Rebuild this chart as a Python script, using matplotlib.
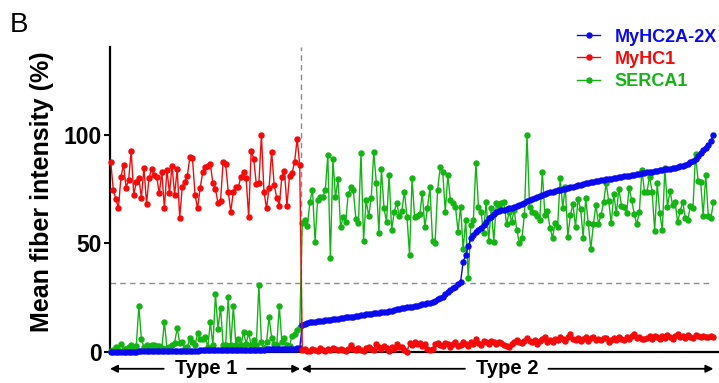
import numpy as np
import matplotlib.pyplot as plt
import matplotlib.transforms as mtransforms

plt.rcParams['font.family'] = ['Liberation Sans', 'DejaVu Sans']

# fibers sorted by MyHC2A-2X intensity, type 1 first then type 2
myhc2a_type1 = [0.0, 0.0, 0.1, 0.1, 0.1, 0.1, 0.2, 0.2, 0.2, 0.2,
                0.2, 0.3, 0.3, 0.3, 0.3, 0.3, 0.3, 0.4, 0.4, 0.4,
                0.4, 0.4, 0.4, 0.5, 0.5, 0.5, 0.5, 0.5, 0.5, 0.6,
                0.6, 0.6, 0.6, 0.6, 0.6, 0.7, 0.7, 0.7, 0.7, 0.7,
                0.7, 0.8, 0.8, 0.8, 0.8, 0.8, 0.8, 0.9, 0.9, 0.9,
                0.9, 0.9, 1.0, 1.0, 1.0, 1.0, 1.0, 1.1, 1.1, 1.1,
                1.1, 1.2, 1.2, 1.2, 1.2, 1.3, 1.3, 1.3, 1.4, 1.4,
                1.4, 1.5, 1.6, 1.8, 2.0]
myhc1_type1 = [87.4, 74.6, 70.5, 66.2, 80.8, 86.2, 75.7, 79.3, 92.6, 72.4,
               78.2, 80.0, 71.1, 84.9, 68.3, 80.3, 84.3, 81.6, 80.5, 73.1,
               82.8, 66.2, 84.0, 73.1, 85.9, 72.4, 84.3, 61.9, 76.2, 78.5,
               81.2, 90.0, 89.2, 72.4, 66.2, 75.4, 82.8, 85.4,
               85.9, 86.5, 77.7, 75.1, 68.5, 69.6, 87.7, 86.5, 73.9, 64.7,
               73.9, 76.2, 76.2, 80.8, 83.1, 80.0, 62.4, 92.6, 88.9, 77.2,
               77.7, 100.0, 73.6, 66.2, 75.7, 92.3, 76.9, 71.1, 67.4, 80.8,
               83.4, 67.4, 81.2, 82.3, 87.7, 98.2, 86.2]
serca1_type1 = [0.3, 1.0, 2.3, 0.8, 3.9, 1.2, 1.5, 2.3, 3.1, 1.8,
                2.8, 21.1, 6.0, 2.3, 3.1, 2.3, 3.1, 3.1, 2.8, 2.8,
                1.8, 14.0, 1.8, 2.3, 3.1, 4.3, 10.9, 4.3, 4.6, 1.8,
                2.3, 6.4, 4.6, 3.1, 8.6, 6.0, 5.8, 6.8,
                2.3, 13.7, 3.1, 26.6, 10.6, 20.4, 3.4, 3.1, 25.5, 3.1,
                21.1, 3.1, 6.0, 3.1, 9.1, 3.9, 8.6, 3.1, 5.4, 3.1,
                30.9, 4.6, 1.8, 4.6, 16.0, 6.6, 3.9, 3.1, 21.1, 4.6,
                6.6, 3.1, 2.6, 7.6, 8.4, 10.0, 11.5]

myhc2a_type2 = [12.4, 12.9, 13.3, 13.6, 13.8, 14.0, 14.2, 14.3, 14.5, 14.6,
                14.7, 14.9, 15.0, 15.2, 15.3, 15.5, 15.7, 15.9, 16.0, 16.2,
                16.3, 16.5, 16.7, 16.9, 17.1, 17.3, 17.5, 17.6, 17.8, 17.9,
                18.1, 18.3, 18.5, 18.6, 18.9, 19.1, 19.4, 19.6, 19.9,
                20.1, 20.3, 20.5, 20.7, 20.9, 21.1, 21.3, 21.6, 21.9, 22.1,
                22.4, 22.8, 23.2, 23.7, 24.2, 24.7,
                25.5, 26.5, 27.8, 28.6, 29.4, 30.1, 31.2, 32.4,
                41.6, 44.7, 48.8, 52.4, 54.0, 55.4, 56.3, 57.2, 58.5, 60.0,
                61.5, 62.4, 63.5, 64.7, 65.0, 65.4,
                65.6, 65.9, 66.2, 66.5, 66.9, 67.3, 67.7, 68.2, 68.8, 69.4,
                70.0, 70.5, 71.0, 71.5, 72.0, 72.4, 72.8, 73.2, 73.6, 73.9,
                74.2, 74.5, 74.7, 75.0, 75.3, 75.6, 75.9, 76.2, 76.5, 76.8,
                77.1, 77.4, 77.7, 78.0, 78.2, 78.5, 78.8, 79.0, 79.2, 79.4,
                79.5, 79.7,
                79.9, 80.1, 80.3, 80.5, 80.7, 80.9, 81.1, 81.3, 81.5, 81.7,
                81.9, 82.1, 82.3, 82.5, 82.7, 82.9, 83.1, 83.3, 83.5, 83.7,
                83.9, 84.1, 84.3, 84.5, 84.7, 84.9, 85.2, 85.5, 85.9, 86.3,
                86.8, 87.4, 88.0, 89.0, 90.5, 91.8, 93.1, 94.2, 95.4, 97.2,
                100.0]
myhc1_type2 = [0.8, 1.2, 0.5, 0.3, 1.5, 0.9, 0.4, 1.8, 1.1, 0.6,
               1.4, 0.9, 2.0, 1.3, 0.7, 1.6, 1.0, 0.5, 1.2, 3.2,
               1.5, 0.8, 1.9, 1.1, 0.6, 1.7, 2.3, 1.4, 0.9, 3.5,
               2.1, 1.2, 2.6, 1.8, 0.4, 2.2, 1.6, 3.7, 2.4,
               2.5, 1.0, 0.2, 4.1, 3.0, 4.8, 3.6, 4.2, 2.8, 3.9,
               1.4, 1.0, 1.2, 3.8, 4.1, 3.2, 2.6, 4.3, 3.5, 2.1,
               3.9, 4.6, 2.8, 3.4, 4.8, 3.7, 2.9, 4.4, 3.6, 5.8,
               4.2, 3.1, 4.9, 4.8, 3.9, 5.2, 4.4, 3.6, 4.8,
               4.0, 3.3, 2.9, 2.5, 3.6, 4.4, 5.5, 4.8, 4.1, 5.2,
               6.3, 5.0, 4.4, 5.6, 3.5, 4.9, 5.8, 7.1, 4.8, 5.5,
               4.6, 6.2, 5.3, 7.1, 6.0, 5.1, 6.8, 8.1, 5.9, 5.5,
               6.4, 4.9, 5.8, 6.7, 5.2, 6.3, 7.0, 5.6, 6.1, 5.5,
               6.6, 6.3,
               4.8, 5.7, 6.4, 5.3, 7.1, 6.2, 5.4, 6.8, 5.9, 7.4,
               8.1, 6.5, 7.0, 6.1, 5.8, 6.6, 7.3, 6.0, 7.6, 6.8,
               5.9, 7.2, 6.4, 7.9, 6.9, 6.2, 7.5, 8.4, 6.8, 7.3,
               6.5, 7.8, 7.0, 6.6, 8.0, 7.2, 6.9, 7.6, 7.1, 6.8,
               7.4, 7.1]
serca1_type2 = [59.3, 60.8, 58.1, 69.3, 74.7, 50.9, 69.8, 71.3, 71.3, 74.4,
                90.8, 43.2, 88.8, 71.3, 79.6, 57.4, 62.0, 60.0, 72.9, 75.9,
                74.4, 61.1, 59.3, 91.9, 51.3, 70.0, 62.6, 70.8, 92.3, 77.7,
                55.0, 84.2, 66.2, 60.0, 81.6, 56.1, 64.6, 68.8, 62.6, 65.1,
                73.9,
                62.3, 44.7, 80.0, 62.0, 62.6, 63.5, 73.1, 57.4, 66.2, 75.9,
                51.3, 50.1, 74.7, 85.1, 83.1, 64.6, 81.6, 69.8, 68.8, 67.0,
                55.5, 67.0, 47.3, 60.8, 33.9, 58.5, 60.8, 87.2, 66.7, 64.6,
                54.7, 69.3, 51.3, 66.2, 50.9, 68.8, 67.3, 68.5,
                68.9, 58.9, 64.3, 60.1, 65.4, 56.2, 50.1, 52.4, 63.1, 100.0,
                67.0, 64.3, 63.9, 62.8, 60.8, 83.1, 63.1, 65.0, 57.3, 52.7,
                59.3, 57.7, 80.3, 66.5, 76.2, 53.2, 63.1, 68.0, 57.7, 70.5,
                65.9, 52.7, 70.8, 59.3, 47.5, 58.9, 67.8, 58.9, 63.1, 68.9,
                77.7,
                69.6, 59.3, 72.7, 63.9, 75.2, 67.4, 66.9, 63.9, 75.5, 70.1,
                63.4, 58.9, 64.3, 84.0, 73.9, 73.9, 80.8, 73.9, 55.8, 77.7,
                63.9, 56.2, 84.7, 66.9, 74.2, 67.7, 68.9, 59.8, 65.0, 69.3,
                61.6, 60.8, 67.4, 66.5, 91.1, 78.8, 78.5, 62.8, 81.6, 62.8,
                61.6, 68.9]

series_names = ["MyHC2A-2X", "MyHC1", "SERCA1"]
series_colors = ["#0a0af0", "#f50a0a", "#14b414"]
group_names = ["Type 1", "Type 2"]
y_ticks = [0, 50, 100]
threshold = 32


def draw_group_label(ax, name, center, left, right):
    # text under the axis with arrows running out to both ends
    trans = mtransforms.blended_transform_factory(ax.transData, ax.transAxes)
    yy = -0.055
    txt = ax.text(center, yy, name, transform=trans, ha='center', va='center',
                  fontsize=14.5, fontweight='bold', clip_on=False)
    ax.figure.canvas.draw()
    bb = txt.get_window_extent()
    inv = ax.transData.inverted()
    x0 = inv.transform((bb.x0 - 11, 0))[0]
    x1 = inv.transform((bb.x1 + 10, 0))[0]
    arrow = dict(arrowstyle='-|>', lw=1.3, color='black', mutation_scale=11,
                 shrinkA=0, shrinkB=0)
    ax.annotate('', xy=(left, yy), xytext=(x0, yy), xycoords=trans,
                textcoords=trans, arrowprops=arrow, annotation_clip=False)
    ax.annotate('', xy=(right, yy), xytext=(x1, yy), xycoords=trans,
                textcoords=trans, arrowprops=arrow, annotation_clip=False)


blue = np.array(myhc2a_type1 + myhc2a_type2)
red = np.array(myhc1_type1 + myhc1_type2)
green = np.array(serca1_type1 + serca1_type2)
x = np.arange(len(blue))
n1 = len(myhc2a_type1)
split = n1 - 0.5

fig = plt.figure(figsize=(7.19, 3.83), dpi=100)
ax = fig.add_axes([110 / 719, 31 / 383, 608 / 719, 305 / 383])

style = dict(marker='o', markersize=3.6, linewidth=1.0, clip_on=False)
l_green, = ax.plot(x, green, color=series_colors[2], zorder=3, **style)
l_blue, = ax.plot(x, blue, color=series_colors[0], zorder=4, **style)
l_red, = ax.plot(x, red, color=series_colors[1], zorder=5, **style)

xmin, xmax = -0.3, len(x) + 0.8
ax.set_xlim(xmin, xmax)
ax.set_ylim(0, 140.5)

ax.axvline(split, color='#8c8c8c', ls=(0, (4, 3)), lw=1.0, zorder=1)
ax.hlines(threshold, xmin, len(x) - 2.5, color='#8c8c8c', ls=(0, (4, 3)),
          lw=1.0, zorder=1)

ax.spines['top'].set_visible(False)
ax.spines['right'].set_visible(False)
ax.spines['left'].set_linewidth(1.6)
ax.spines['bottom'].set_linewidth(1.6)
ax.set_xticks([])
ax.set_yticks(y_ticks)
ax.set_yticklabels([str(t) for t in y_ticks], fontweight='bold')
ax.tick_params(axis='y', length=4, width=1.5, labelsize=16.5, pad=2)

ax.set_ylabel("Mean fiber intensity (%)", fontsize=18, fontweight='bold')
ax.yaxis.set_label_coords(-0.092, 0.525)

leg = ax.legend([l_blue, l_red, l_green], series_names, loc='upper left',
                bbox_to_anchor=(577 / 719, 0.925), bbox_transform=fig.transFigure,
                frameon=False, borderpad=0, borderaxespad=0, handlelength=1.3,
                handletextpad=0.8, labelspacing=0.28,
                prop=dict(weight='bold', size=13))
for t, c in zip(leg.get_texts(), series_colors):
    t.set_color(c)

fig.text(10 / 719, 1 - 12 / 383, "B", fontsize=20, va='top', ha='left')

draw_group_label(ax, group_names[0], split / 2, xmin, split - 0.3)
draw_group_label(ax, group_names[1], (split + len(x) - 1) / 2, split + 0.3, len(x) - 1)

fig.savefig("out.png", dpi=100)
